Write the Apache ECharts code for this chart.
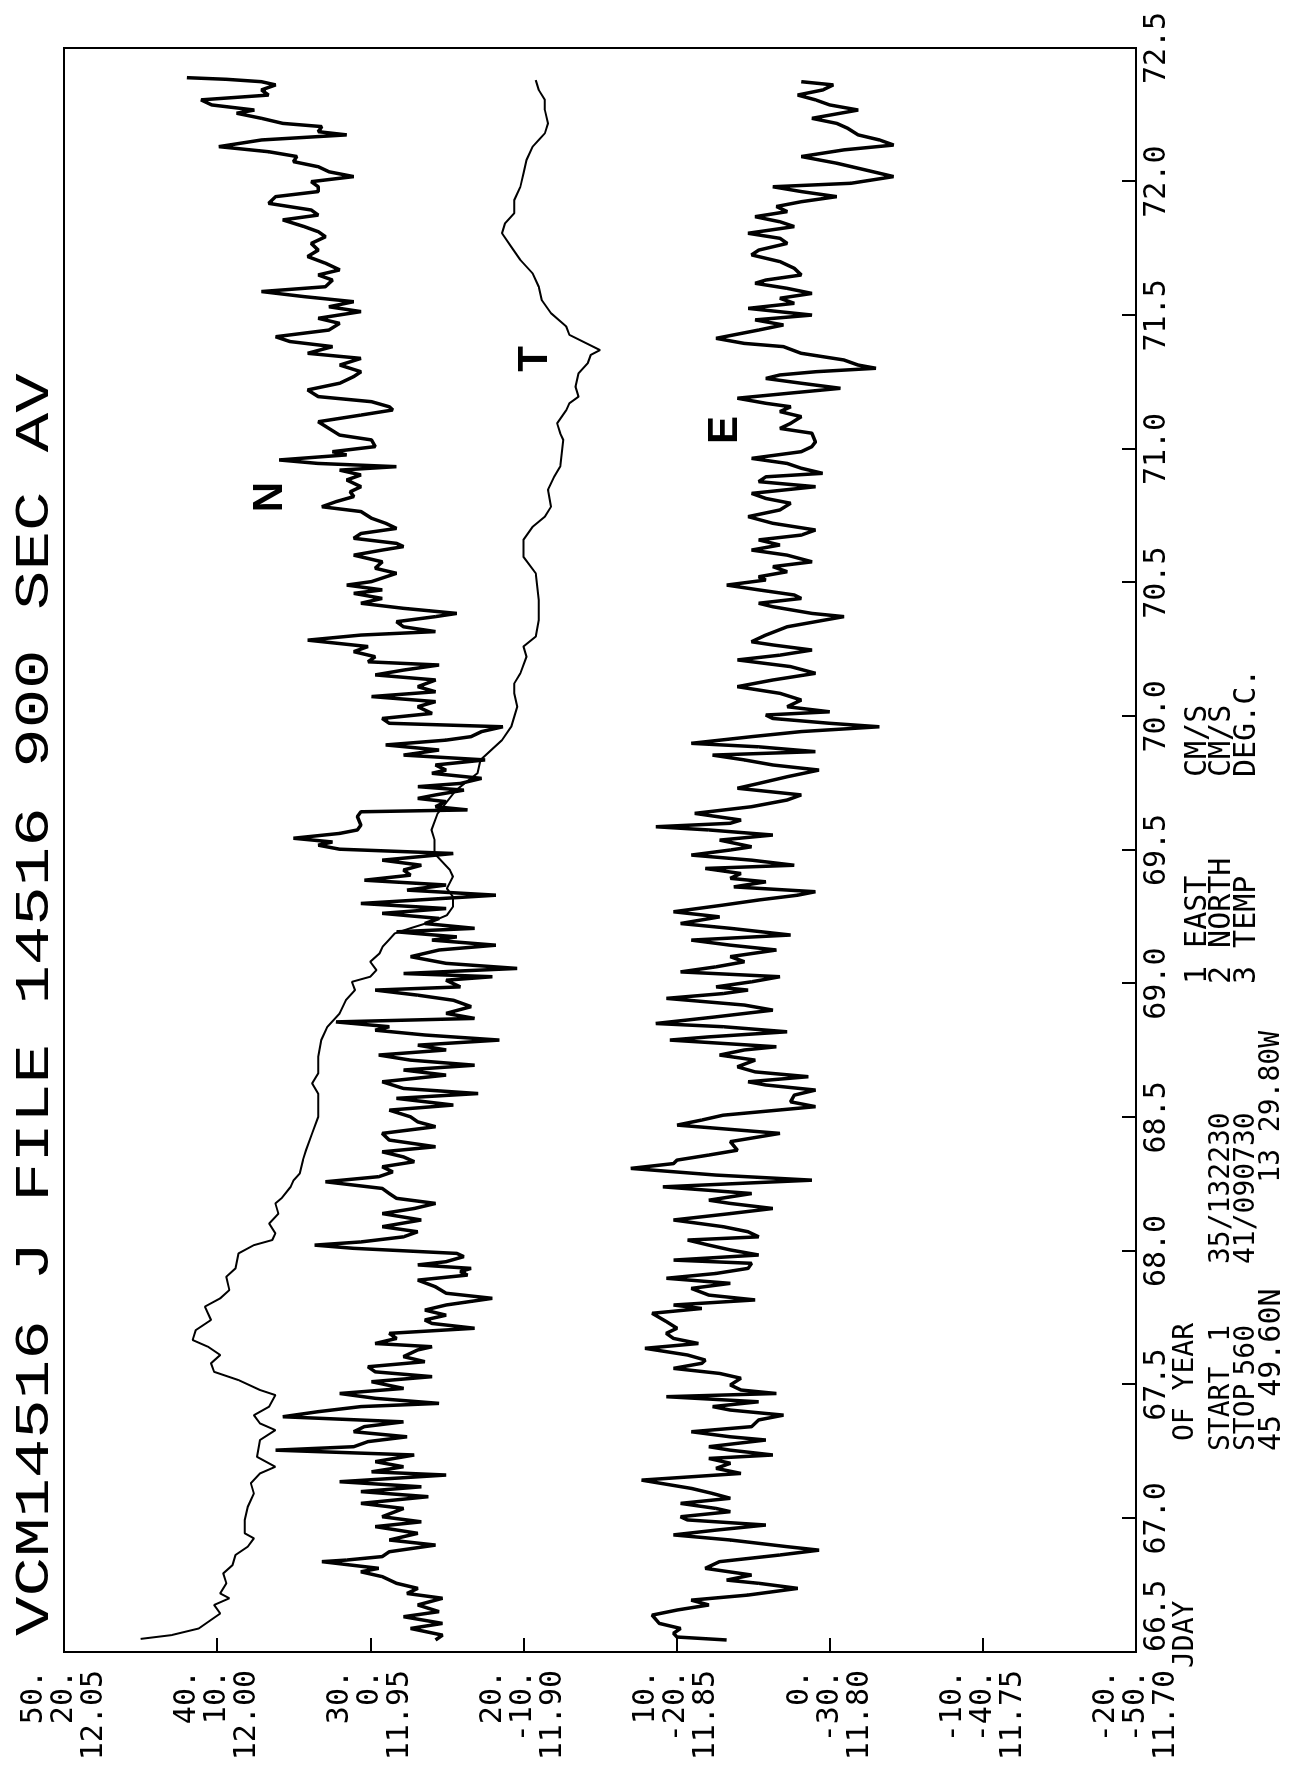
<!DOCTYPE html>
<html>
<head>
<meta charset="utf-8">
<script src="https://cdn.jsdelivr.net/npm/echarts@6/dist/echarts.min.js"></script>
<style>
  html, body { margin: 0; padding: 0; background: #fff; width: 1295px; height: 1771px; overflow: hidden; }
  /* plotter sheet is drawn landscape, then turned a quarter turn counter-clockwise */
  #chart { position: absolute; left: 0; top: 0; width: 1771px; height: 1295px;
           transform-origin: 0 0; transform: translate(0, 1771px) rotate(-90deg); }
</style>
</head>
<body>
<div id="chart"></div>
<script>
// ---- axis tick labels (three stacked scales share one frame) ----
const eastTicks  = [50, 40, 30, 20, 10, 0, -10, -20];
const northTicks = [20, 10, 0, -10, -20, -30, -40, -50];
const tempTicks  = ['12.05', '12.00', '11.95', '11.90', '11.85', '11.80', '11.75', '11.70'];

// ---- channel 1: EAST (cm/s) ----
const eastDay = [
  66.545, 66.556, 66.570, 66.588, 66.607, 66.638, 66.657, 66.676, 66.694, 66.713,
  66.738, 66.757, 66.769, 66.788, 66.813, 66.838, 66.863, 66.881, 66.894, 66.919,
  66.938, 66.956, 66.975, 66.994, 67.006, 67.025, 67.037, 67.056, 67.075, 67.093,
  67.112, 67.143, 67.168, 67.187, 67.206, 67.224, 67.237, 67.255, 67.268, 67.293,
  67.305, 67.324, 67.343, 67.368, 67.386, 67.405, 67.418, 67.436, 67.455, 67.467,
  67.480, 67.499, 67.524, 67.542, 67.561, 67.580, 67.592, 67.611, 67.636, 67.654,
  67.673, 67.692, 67.711, 67.736, 67.767, 67.785, 67.798, 67.817, 67.835, 67.860,
  67.879, 67.898, 67.916, 67.935, 67.954, 67.966, 67.985, 68.004, 68.022, 68.041,
  68.053, 68.072, 68.091, 68.116, 68.140, 68.159, 68.178, 68.190, 68.215, 68.240,
  68.265, 68.284, 68.309, 68.327, 68.340, 68.359, 68.377, 68.409, 68.440, 68.471,
  68.490, 68.508, 68.540, 68.558, 68.583, 68.602, 68.621, 68.633, 68.652, 68.670,
  68.689, 68.714, 68.733, 68.752, 68.764, 68.789, 68.801, 68.820, 68.839, 68.851,
  68.876, 68.901, 68.920, 68.945, 68.963, 68.976, 68.988, 69.007, 69.026, 69.044,
  69.063, 69.082, 69.101, 69.126, 69.144, 69.163, 69.182, 69.207, 69.225, 69.250,
  69.269, 69.294, 69.313, 69.331, 69.344, 69.362, 69.381, 69.394, 69.412, 69.431,
  69.443, 69.462, 69.481, 69.500, 69.512, 69.537, 69.556, 69.575, 69.587, 69.600,
  69.612, 69.637, 69.662, 69.687, 69.706, 69.731, 69.749, 69.774, 69.799, 69.818,
  69.837, 69.855, 69.868, 69.886, 69.899, 69.924, 69.943, 69.961, 69.974, 69.992,
  70.005, 70.017, 70.036, 70.061, 70.086, 70.111, 70.136, 70.161, 70.186, 70.211,
  70.229, 70.248, 70.267, 70.279, 70.304, 70.335, 70.354, 70.373, 70.385, 70.410,
  70.423, 70.441, 70.454, 70.473, 70.491, 70.510, 70.522, 70.541, 70.560, 70.578,
  70.603, 70.622, 70.641, 70.660, 70.678, 70.697, 70.722, 70.747, 70.772, 70.797,
  70.815, 70.834, 70.859, 70.878, 70.896, 70.909, 70.928, 70.946, 70.965, 70.990,
  71.009, 71.027, 71.059, 71.077, 71.096, 71.121, 71.140, 71.158, 71.171, 71.190,
  71.208, 71.227, 71.246, 71.264, 71.277, 71.289, 71.302, 71.314, 71.333, 71.358,
  71.383, 71.395, 71.414, 71.445, 71.464, 71.483, 71.501, 71.526, 71.545, 71.564,
  71.582, 71.601, 71.620, 71.632, 71.651, 71.676, 71.701, 71.726, 71.744, 71.769,
  71.788, 71.807, 71.832, 71.850, 71.869, 71.888, 71.907, 71.925, 71.944, 71.963,
  71.981, 71.994, 72.019, 72.044, 72.069, 72.094, 72.119, 72.137, 72.156, 72.175,
  72.200, 72.218, 72.237, 72.268, 72.287, 72.306, 72.324, 72.343, 72.362, 72.374
];
const eastVal = [
  6.73, 9.97, 10.20, 9.74, 11.13, 11.60, 9.97, 7.89, 9.04, 5.33,
  2.09, 4.64, 6.73, 5.10, 8.12, 7.19, 3.25, 0.70, 2.78, 6.49,
  10.20, 7.42, 4.17, 9.28, 9.74, 6.49, 7.42, 9.74, 6.49, 7.65,
  9.04, 12.29, 5.80, 7.42, 6.49, 7.89, 3.71, 6.49, 7.89, 4.17,
  6.49, 9.04, 5.10, 4.64, 3.02, 6.49, 7.65, 4.64, 10.67, 3.48,
  5.80, 6.49, 5.80, 7.19, 10.20, 8.35, 8.12, 9.28, 12.06, 8.58,
  10.20, 10.67, 9.97, 10.67, 11.60, 8.35, 10.20, 4.87, 7.89, 9.04,
  6.49, 10.67, 7.42, 5.33, 5.10, 10.20, 4.64, 6.49, 7.89, 9.28,
  4.64, 5.33, 6.96, 10.20, 6.49, 3.71, 6.49, 7.89, 5.10, 10.90,
  1.16, 7.42, 12.99, 10.20, 9.97, 7.89, 6.03, 6.49, 3.25, 9.97,
  8.35, 6.96, 0.93, 2.55, 2.32, 0.93, 4.17, 5.33, 1.39, 4.87,
  6.03, 4.87, 7.19, 5.57, 3.48, 10.44, 7.89, 2.78, 6.96, 11.36,
  7.42, 3.71, 5.57, 10.67, 6.96, 5.33, 7.42, 5.10, 3.25, 9.74,
  7.42, 5.57, 6.49, 3.48, 6.49, 9.04, 2.55, 6.49, 9.74, 7.19,
  10.20, 6.96, 4.64, 2.09, 0.93, 6.26, 4.17, 6.49, 5.80, 8.12,
  2.32, 5.10, 9.04, 6.49, 5.10, 7.19, 3.71, 7.89, 11.36, 6.49,
  5.80, 8.81, 5.10, 2.78, 1.86, 6.03, 4.64, 2.78, 0.70, 3.71,
  5.57, 7.65, 0.93, 4.64, 9.04, 5.10, 1.86, -3.25, 0.00, 3.71,
  4.17, 0.00, 2.78, 1.86, 3.25, 6.03, 3.71, 0.93, 2.55, 6.03,
  3.25, 1.16, 3.71, 5.10, 4.17, 2.78, 0.93, -0.93, 1.16, 3.71,
  4.64, 1.86, 2.32, 4.64, 6.73, 4.17, 4.64, 2.78, 3.71, 1.16,
  2.78, 5.10, 3.25, 4.64, 1.86, 0.93, 3.71, 5.33, 3.25, 2.55,
  4.17, 5.10, 0.93, 4.64, 4.17, 0.46, 1.86, 2.78, 5.10, 1.86,
  1.16, 0.93, 1.16, 3.25, 2.55, 1.86, 3.25, 2.55, 4.17, 6.03,
  2.78, -0.70, 1.86, 4.17, 3.25, 0.93, -3.02, -1.86, -0.93, 1.86,
  3.02, 5.57, 7.42, 4.64, 3.02, 4.87, 1.16, 5.33, 2.32, 3.25,
  1.16, 2.78, 4.87, 4.17, 1.86, 2.32, 3.25, 5.10, 4.64, 2.78,
  3.25, 5.33, 2.32, 3.25, 4.87, 2.78, 3.48, 1.86, -0.46, 1.86,
  3.71, -1.39, -4.17, -2.32, -0.46, 1.86, -0.93, -4.17, -3.25, -1.86,
  -1.16, -0.46, 1.16, -1.86, 0.00, 0.93, 2.09, 0.46, -0.23, 1.86
];

// ---- channel 2: NORTH (cm/s) ----
const northDay = [
  66.545, 66.563, 66.588, 66.607, 66.632, 66.651, 66.676, 66.701, 66.719, 66.738,
  66.757, 66.782, 66.800, 66.813, 66.838, 66.844, 66.857, 66.875, 66.900, 66.919,
  66.944, 66.969, 66.987, 67.006, 67.037, 67.056, 67.081, 67.100, 67.118, 67.137,
  67.162, 67.174, 67.193, 67.212, 67.237, 67.255, 67.268, 67.287, 67.305, 67.324,
  67.343, 67.361, 67.380, 67.399, 67.418, 67.430, 67.449, 67.467, 67.486, 67.511,
  67.530, 67.548, 67.567, 67.586, 67.605, 67.630, 67.642, 67.654, 67.673, 67.692,
  67.711, 67.729, 67.742, 67.760, 67.779, 67.798, 67.823, 67.842, 67.866, 67.891,
  67.910, 67.923, 67.935, 67.948, 67.960, 67.979, 67.991, 68.010, 68.022, 68.034,
  68.053, 68.072, 68.091, 68.116, 68.140, 68.159, 68.178, 68.197, 68.215, 68.234,
  68.259, 68.278, 68.296, 68.315, 68.334, 68.352, 68.371, 68.390, 68.415, 68.440,
  68.465, 68.483, 68.502, 68.527, 68.546, 68.571, 68.589, 68.608, 68.633, 68.658,
  68.677, 68.695, 68.714, 68.733, 68.752, 68.770, 68.789, 68.808, 68.826, 68.839,
  68.857, 68.870, 68.889, 68.914, 68.938, 68.957, 68.976, 68.988, 69.013, 69.026,
  69.038, 69.057, 69.076, 69.101, 69.126, 69.144, 69.163, 69.175, 69.194, 69.207,
  69.225, 69.244, 69.263, 69.281, 69.300, 69.313, 69.331, 69.350, 69.369, 69.387,
  69.406, 69.425, 69.443, 69.462, 69.487, 69.503, 69.518, 69.530, 69.544, 69.562,
  69.575, 69.593, 69.625, 69.643, 69.650, 69.662, 69.681, 69.693, 69.706, 69.724,
  69.737, 69.749, 69.768, 69.787, 69.799, 69.818, 69.837, 69.855, 69.874, 69.893,
  69.911, 69.924, 69.943, 69.961, 69.974, 69.992, 70.011, 70.036, 70.055, 70.074,
  70.092, 70.111, 70.136, 70.155, 70.173, 70.192, 70.204, 70.223, 70.242, 70.261,
  70.285, 70.304, 70.317, 70.335, 70.354, 70.373, 70.385, 70.404, 70.423, 70.441,
  70.460, 70.473, 70.491, 70.504, 70.535, 70.554, 70.578, 70.603, 70.622, 70.635,
  70.647, 70.666, 70.684, 70.703, 70.722, 70.741, 70.766, 70.784, 70.803, 70.822,
  70.840, 70.859, 70.884, 70.903, 70.921, 70.934, 70.946, 70.959, 70.978, 70.990,
  71.009, 71.034, 71.052, 71.077, 71.102, 71.127, 71.146, 71.158, 71.177, 71.196,
  71.221, 71.246, 71.271, 71.289, 71.314, 71.339, 71.358, 71.383, 71.402, 71.420,
  71.445, 71.470, 71.489, 71.514, 71.532, 71.551, 71.570, 71.589, 71.607, 71.632,
  71.651, 71.670, 71.695, 71.720, 71.744, 71.769, 71.794, 71.813, 71.832, 71.857,
  71.875, 71.894, 71.919, 71.944, 71.963, 71.981, 72.000, 72.019, 72.037, 72.056,
  72.075, 72.094, 72.112, 72.131, 72.156, 72.175, 72.187, 72.206, 72.218, 72.237,
  72.256, 72.268, 72.287, 72.306, 72.324, 72.343, 72.362, 72.374, 72.383, 72.389
];
const northVal = [
  -4.26, -4.72, -2.63, -4.72, -2.17, -4.49, -3.10, -4.72, -2.40, -3.10,
  -1.71, -0.78, 0.61, -0.55, 3.16, 1.54, -0.78, -1.24, -4.26, -1.24,
  -3.10, -0.32, -3.33, -0.78, -2.17, 0.61, -3.79, 0.61, -3.33, 2.00,
  -4.95, -0.08, -2.17, -0.32, -2.87, 6.18, 1.08, 0.15, -2.40, 1.08,
  0.40, -2.17, 5.71, 3.40, 0.61, -4.49, -0.32, 2.00, -2.17, -0.08,
  -4.03, -0.32, 0.15, -3.56, -2.17, -3.10, -4.03, -0.32, -1.71, -1.24,
  -6.81, -4.03, -3.56, -4.95, -3.56, -4.95, -7.97, -4.95, -4.26, -3.10,
  -6.35, -5.88, -6.58, -3.10, -4.95, -6.11, -5.65, 1.08, 3.63, 0.61,
  -2.17, -3.10, -0.78, -3.33, -0.78, -2.87, -4.26, -1.71, -1.24, -0.78,
  2.93, -0.55, -1.47, -0.78, -2.87, -2.17, -0.78, -4.26, -1.24, -0.78,
  -4.26, -3.10, -2.63, -1.24, -5.42, -1.71, -7.04, -2.17, -0.78, -4.95,
  -2.17, -6.81, -2.63, -0.55, -4.95, -3.10, -8.43, -3.56, -0.32, -1.24,
  2.24, -6.81, -4.95, -6.58, -5.42, -3.10, -0.32, -5.88, -4.95, -7.97,
  -2.17, -9.59, -4.95, -2.63, -4.49, -8.20, -4.03, -5.65, -1.71, -6.81,
  -3.56, -4.49, -0.78, -4.95, 0.61, -3.10, -8.20, -2.40, -4.95, 0.38,
  -2.63, -2.17, -3.33, -0.78, -5.42, 2.00, 3.40, 2.47, 5.02, 2.00,
  0.84, 0.61, 0.84, 0.61, -6.35, -4.26, -4.95, -3.10, -4.26, -6.11,
  -3.10, -5.88, -7.27, -4.03, -4.95, -4.26, -7.50, -2.17, -4.49, -1.01,
  -4.95, -6.58, -7.27, -8.66, -1.24, -0.78, -4.03, -3.10, -4.26, -0.08,
  -4.26, -3.10, -4.26, -0.32, -2.17, -4.49, 0.15, -0.32, 1.08, 0.15,
  4.09, 0.61, -4.26, -2.17, -1.71, -4.26, -5.65, -2.17, 0.61, -0.78,
  1.08, -0.78, 1.54, -0.08, -1.71, -0.32, -0.78, 1.08, -0.78, -2.17,
  -1.71, 1.08, 0.61, -1.71, -1.01, -0.08, 0.61, 3.16, 2.24, 1.08,
  1.31, 0.61, 1.54, 0.61, 2.00, -1.71, 3.40, 5.95, 1.54, 2.47,
  -0.32, -0.08, 2.00, 2.70, 3.40, 0.61, -1.47, -1.24, -0.08, 3.40,
  4.09, 2.00, 1.08, 0.61, 2.00, 0.61, 4.09, 2.47, 5.25, 6.18,
  2.70, 2.00, 3.40, 0.61, 2.70, 1.08, 4.32, 7.11, 2.93, 2.47,
  3.40, 2.00, 2.93, 4.09, 3.40, 3.86, 2.93, 3.40, 4.32, 5.71,
  3.40, 3.86, 6.64, 6.18, 3.40, 3.40, 3.86, 1.08, 2.70, 3.40,
  5.02, 4.79, 6.64, 9.89, 7.11, 1.54, 3.40, 3.16, 5.71, 7.11,
  8.73, 7.57, 10.35, 11.05, 6.64, 7.11, 6.18, 7.11, 9.42, 11.98
];

// ---- channel 3: TEMP (deg C) ----
const tempDay = [
  66.549, 66.563, 66.588, 66.620, 66.644, 66.676, 66.701, 66.719, 66.757, 66.794,
  66.825, 66.863, 66.894, 66.925, 66.944, 66.994, 67.043, 67.093, 67.131, 67.168,
  67.193, 67.230, 67.293, 67.330, 67.355, 67.386, 67.418, 67.461, 67.480, 67.517,
  67.548, 67.580, 67.611, 67.642, 67.667, 67.704, 67.742, 67.792, 67.823, 67.854,
  67.904, 67.935, 67.991, 68.022, 68.041, 68.066, 68.103, 68.140, 68.178, 68.197,
  68.240, 68.265, 68.290, 68.340, 68.377, 68.440, 68.502, 68.552, 68.589, 68.627,
  68.664, 68.727, 68.789, 68.839, 68.889, 68.938, 68.976, 69.007, 69.026, 69.051,
  69.082, 69.113, 69.138, 69.163, 69.188, 69.207, 69.232, 69.256, 69.288, 69.325,
  69.356, 69.400, 69.425, 69.462, 69.487, 69.537, 69.575, 69.637, 69.724, 69.787,
  69.837, 69.911, 69.961, 70.036, 70.086, 70.123, 70.161, 70.223, 70.261, 70.298,
  70.360, 70.435, 70.535, 70.597, 70.660, 70.709, 70.747, 70.784, 70.847, 70.896,
  70.934, 71.034, 71.059, 71.096, 71.146, 71.171, 71.196, 71.233, 71.283, 71.321,
  71.352, 71.370, 71.427, 71.458, 71.508, 71.557, 71.607, 71.657, 71.707, 71.757,
  71.807, 71.844, 71.882, 71.931, 71.981, 72.031, 72.081, 72.131, 72.156, 72.181,
  72.218, 72.268, 72.306, 72.343, 72.380
];
const tempVal = [
  12.025, 12.015, 12.006, 12.002, 11.999, 12.001, 11.996, 11.999, 11.997, 11.998,
  11.995, 11.994, 11.990, 11.988, 11.991, 11.991, 11.990, 11.988, 11.989, 11.986,
  11.981, 11.987, 11.986, 11.981, 11.986, 11.988, 11.983, 11.981, 11.986, 11.993,
  12.001, 12.002, 11.999, 12.003, 12.008, 12.007, 12.002, 12.004, 11.999, 11.996,
  11.997, 11.994, 11.993, 11.988, 11.982, 11.981, 11.983, 11.980, 11.981, 11.979,
  11.976, 11.975, 11.973, 11.972, 11.971, 11.969, 11.967, 11.967, 11.967, 11.969,
  11.967, 11.967, 11.966, 11.964, 11.960, 11.958, 11.955, 11.956, 11.950, 11.948,
  11.950, 11.947, 11.946, 11.944, 11.942, 11.937, 11.930, 11.925, 11.923, 11.923,
  11.925, 11.923, 11.924, 11.927, 11.929, 11.929, 11.930, 11.928, 11.922, 11.915,
  11.914, 11.907, 11.904, 11.902, 11.903, 11.903, 11.901, 11.899, 11.900, 11.896,
  11.895, 11.895, 11.896, 11.900, 11.900, 11.897, 11.893, 11.891, 11.892, 11.890,
  11.888, 11.887, 11.888, 11.889, 11.886, 11.885, 11.882, 11.883, 11.882, 11.879,
  11.878, 11.875, 11.885, 11.886, 11.891, 11.894, 11.895, 11.897, 11.901, 11.904,
  11.907, 11.906, 11.903, 11.903, 11.901, 11.900, 11.899, 11.897, 11.895, 11.893,
  11.892, 11.893, 11.893, 11.895, 11.896
];

// curve name tags placed in data coordinates [day, value]
const eastTag  = [71.071, 6.8];
const northTag = [70.82, 6.5];
const tempTag  = [71.337, 11.896];

const MONO = '"DejaVu Sans Mono", "Liberation Mono", monospace';
const THIN = '"Liberation Mono", "DejaVu Sans Mono", monospace';
const BOLD = '"Liberation Sans", Arial, sans-serif';
const INK = '#000';

function pairs(days, vals) {
  const n = Math.min(days.length, vals.length);
  const out = [];
  for (let i = 0; i < n; i++) out.push([days[i], vals[i]]);
  return out;
}

function tag(text, coord) {
  return {
    symbol: 'circle', symbolSize: 1,
    itemStyle: { color: 'rgba(0,0,0,0)' },
    label: { show: true, position: 'inside', formatter: text, color: INK,
             fontFamily: BOLD, fontWeight: 'bold', fontSize: 42 },
    data: [{ coord: coord }]
  };
}

function txt(x, y, text, align, size) {
  return { type: 'text', x: x, y: y, silent: true,
           style: { text: text, fontFamily: MONO, fontSize: size || 28, fill: INK,
                    align: align || 'left', verticalAlign: 'middle' } };
}

const chart = echarts.init(document.getElementById('chart'), null,
  { renderer: 'canvas', width: 1771, height: 1295 });

chart.setOption({
  animation: false,
  backgroundColor: '#fff',
  grid: { left: 119, right: 48, top: 64, bottom: 159, show: true,
          borderColor: INK, borderWidth: 2, backgroundColor: 'transparent' },
  xAxis: {
    type: 'value', min: 66.5, max: 72.5, interval: 0.5,
    splitLine: { show: false },
    axisLine: { show: true, onZero: false, lineStyle: { color: INK, width: 2 } },
    axisTick: { show: true, inside: true, length: 14, lineStyle: { color: INK, width: 2 } },
    axisLabel: { show: true, showMinLabel: true, showMaxLabel: true, alignMinLabel: 'left',
                 margin: 6, color: INK, fontFamily: MONO, fontSize: 30, lineHeight: 30,
                 formatter: v => v.toFixed(1) }
  },
  yAxis: [
    {
      type: 'value', min: -20, max: 50, interval: 10, position: 'left',
      splitLine: { show: false },
      axisLine: { show: true, onZero: false, lineStyle: { color: INK, width: 2 } },
      axisTick: { show: true, inside: true, length: 14, lineStyle: { color: INK, width: 2 } },
      axisLabel: {
        show: true, showMinLabel: true, showMaxLabel: true, margin: 18,
        color: INK, fontFamily: MONO, fontSize: 30, lineHeight: 30, align: 'right',
        padding: [38, 0, 0, 0],
        formatter: v => {
          const i = eastTicks.indexOf(Math.round(v));
          if (i < 0) return '';
          return eastTicks[i] + '.\n' + northTicks[i] + '.\n' + tempTicks[i];
        }
      }
    },
    { type: 'value', min: -50, max: 20, show: false },
    { type: 'value', min: 11.70, max: 12.05, show: false }
  ],
  series: [
    { name: 'EAST', type: 'line', yAxisIndex: 0, data: pairs(eastDay, eastVal),
      showSymbol: false, symbol: 'none', lineStyle: { color: INK, width: 3.5 },
      markPoint: tag('E', eastTag) },
    { name: 'NORTH', type: 'line', yAxisIndex: 1, data: pairs(northDay, northVal),
      showSymbol: false, symbol: 'none', lineStyle: { color: INK, width: 3.5 },
      markPoint: tag('N', northTag) },
    { name: 'TEMP', type: 'line', yAxisIndex: 2, data: pairs(tempDay, tempVal),
      showSymbol: false, symbol: 'none', lineStyle: { color: INK, width: 2 },
      markPoint: tag('T', tempTag) }
  ],
  graphic: [
    { type: 'text', x: 135, y: 35, scaleX: 1.37, silent: true,
      style: { text: 'VCM14516 J FILE 14516 900 SEC AV', fontFamily: THIN, fontSize: 48,
               fill: INK, align: 'left', verticalAlign: 'middle' } },
    txt(103, 1186, 'JDAY'),
    txt(330, 1186, 'OF YEAR'),
    txt(320, 1222, 'START'),
    txt(446, 1222, '1', 'right'),
    txt(507, 1222, '35/132230'),
    txt(320, 1247, 'STOP'),
    txt(446, 1247, '560', 'right'),
    txt(507, 1247, '41/090730'),
    txt(320, 1272, '45 49.60N', 'left', 30),
    txt(740, 1272, '13 29.80W', 'right'),
    txt(787, 1198, '1 EAST', 'left', 30),
    txt(994, 1198, 'CM/S', 'left', 30),
    txt(787, 1222, '2 NORTH', 'left', 30),
    txt(994, 1222, 'CM/S', 'left', 30),
    txt(787, 1247, '3 TEMP', 'left', 30),
    txt(994, 1247, 'DEG.C.', 'left', 30)
  ]
});
</script>
</body>
</html>
